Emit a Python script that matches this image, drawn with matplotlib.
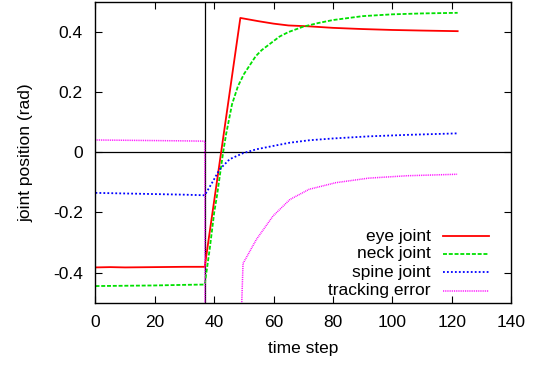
import matplotlib
matplotlib.use("Agg")
import matplotlib.pyplot as plt
from matplotlib.lines import Line2D

plt.rcParams['font.family'] = ['Liberation Sans', 'DejaVu Sans']

# eye joint
eye_t = [0, 5, 10, 20, 30, 36.8, 48.8, 55, 60, 65, 72, 80, 90, 100, 110, 122]
eye_v = [-0.383, -0.382, -0.383, -0.382, -0.381, -0.381, 0.447, 0.436, 0.428, 0.422, 0.419, 0.414, 0.410, 0.407, 0.405, 0.403]

# neck joint
neck_t = [0, 10, 20, 30, 36.8, 38.5, 40, 41, 43, 44, 46, 48, 50, 52, 54, 56, 58, 60, 62, 65, 70, 75, 80, 90, 100, 110, 122]
neck_v = [-0.445, -0.444, -0.443, -0.441, -0.440, -0.32, -0.2, -0.14, 0.0, 0.06, 0.16, 0.22, 0.26, 0.29, 0.32, 0.34, 0.355, 0.37, 0.385, 0.400, 0.418, 0.43, 0.44, 0.453, 0.459, 0.462, 0.464]

# spine joint
spine_t = [0, 10, 20, 30, 36.8, 39.6, 41.8, 45.2, 49.7, 54.2, 59.8, 65.5, 72, 80, 92, 105, 122]
spine_v = [-0.135, -0.137, -0.139, -0.141, -0.143, -0.096, -0.057, -0.023, -0.003, 0.010, 0.021, 0.032, 0.040, 0.046, 0.053, 0.058, 0.063]

# tracking error
err_t = [0, 10, 20, 30, 36.8, 37.0, 48.3, 49.7, 54.2, 59.8, 65.5, 72, 81, 92, 105, 122]
err_v = [0.041, 0.040, 0.039, 0.038, 0.037, -1.5, -0.8, -0.37, -0.29, -0.212, -0.157, -0.123, -0.101, -0.086, -0.078, -0.073]

event_t = 37
x_ticks = [0, 20, 40, 60, 80, 100, 120, 140]
y_ticks = [-0.4, -0.2, 0, 0.2, 0.4]
y_tick_labels = ['-0.4', '-0.2', '0', '0.2', '0.4']

fig = plt.figure(figsize=(5.44, 3.65), dpi=100)
ax = fig.add_axes([0.1755, 0.171, 0.764, 0.8235])

ax.axhline(0, color='black', lw=0.9, zorder=1)
ax.axvline(event_t, color='black', lw=0.9, zorder=1)

series = [
    (eye_t, eye_v, 'eye joint', '#ff0000', '-', 1.3),
    (neck_t, neck_v, 'neck joint', '#00e000', (0, (2.2, 1.0)), 1.3),
    (spine_t, spine_v, 'spine joint', '#0000ff', (0, (1.0, 1.2)), 1.3),
    (err_t, err_v, 'tracking error', '#ff00ff', (0, (0.6, 0.6)), 1.1),
]
for t, v, lab, c, ls, lw in series:
    ax.plot(t, v, color=c, ls=ls, lw=lw, zorder=2)

ax.set_xlim(0, 140)
ax.set_ylim(-0.5, 0.5)
ax.set_xticks(x_ticks)
ax.set_yticks(y_ticks)
ax.set_yticklabels(y_tick_labels)
ax.tick_params(direction='in', length=5, width=0.8, top=True, right=True,
               labelsize=12.5, pad=9)
for s in ax.spines.values():
    s.set_linewidth(1.0)

ax.set_xlabel('time step', fontsize=12.5, labelpad=8)
ax.set_ylabel('joint position (rad)', fontsize=12.5, labelpad=14)

# legend (gnuplot style: text right-aligned, sample on the right)
text_x = 0.8065
line_x0, line_x1 = 0.835, 0.948
row_y = [0.221, 0.163, 0.101, 0.040]
for (t, v, lab, c, ls, lw), yy in zip(series, row_y):
    ax.text(text_x, yy, lab, transform=ax.transAxes, ha='right', va='center',
            fontsize=12.5)
    ax.add_line(Line2D([line_x0, line_x1], [yy, yy], transform=ax.transAxes,
                       color=c, ls=ls, lw=lw))

fig.savefig('out.png', dpi=100)
